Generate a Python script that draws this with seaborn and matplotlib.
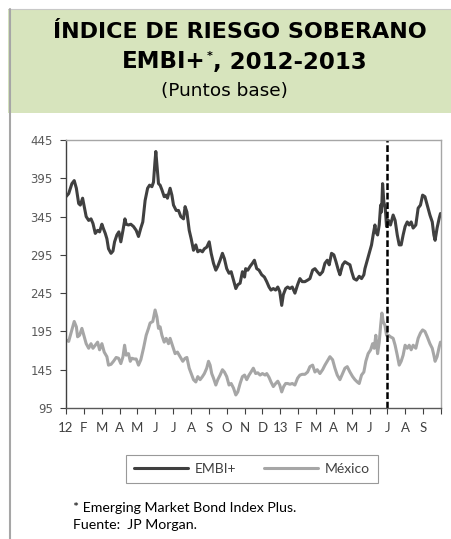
import numpy as np
import pandas as pd
import matplotlib
matplotlib.use("Agg")
import matplotlib.pyplot as plt
import seaborn as sns
from matplotlib.patches import Rectangle
from matplotlib.lines import Line2D

# ---- data (x = months since Jan-2012, fractional) ----
meses_embi = [0.00, 0.15, 0.33, 0.46, 0.58, 0.71, 0.80, 0.93, 1.02, 1.13, 1.27, 1.40, 1.51, 1.64, 1.77, 1.88,
              2.01, 2.10, 2.20, 2.29, 2.38, 2.52, 2.63, 2.72, 2.85, 2.96, 3.07, 3.19, 3.30, 3.37, 3.50, 3.63,
              3.78, 3.93, 4.06, 4.19, 4.30, 4.43, 4.57, 4.68, 4.81, 4.90, 4.98, 5.03, 5.11, 5.18, 5.27, 5.37,
              5.50, 5.61, 5.68, 5.83, 5.93, 6.02, 6.17, 6.30, 6.43, 6.58,
              6.67, 6.77, 6.90, 7.01, 7.14, 7.27, 7.38, 7.51, 7.64, 7.75, 7.88, 8.02, 8.13, 8.26, 8.39, 8.50,
              8.63, 8.76, 8.87, 9.00, 9.13, 9.25, 9.38, 9.51, 9.62, 9.75, 9.88, 10.00, 10.06, 10.18, 10.31,
              10.44, 10.55, 10.68, 10.81, 10.96, 11.11, 11.24, 11.37, 11.48, 11.61, 11.74, 11.86, 11.97,
              12.08, 12.17, 12.30, 12.41, 12.54, 12.67, 12.82, 12.97, 13.10, 13.23, 13.38, 13.53,
              13.66, 13.81, 13.94, 14.07, 14.22, 14.37, 14.50, 14.63, 14.74, 14.87, 15.00, 15.12, 15.25,
              15.34, 15.49, 15.62, 15.75, 15.90, 16.00, 16.12, 16.27, 16.42, 16.55, 16.68, 16.74, 16.87,
              16.98, 17.11, 17.20, 17.30, 17.35, 17.45, 17.54, 17.62, 17.67, 17.73, 17.80, 17.88, 17.95,
              18.06, 18.17, 18.32, 18.43, 18.55, 18.66, 18.77, 18.88, 18.99, 19.11, 19.22, 19.33, 19.44,
              19.59, 19.72, 19.85, 19.97, 20.10, 20.23, 20.38, 20.51, 20.60, 20.67, 20.78, 20.90, 20.97]
embi = [371, 375, 388, 392, 382, 362, 360, 369, 358, 345, 340, 342, 336, 323, 327, 325,
        335, 329, 323, 316, 303, 297, 300, 312, 321, 325, 312, 327, 342, 335, 334, 335,
        332, 327, 319, 330, 338, 366, 382, 386, 384, 390, 416, 430, 408, 388, 386, 380,
        371, 373, 369, 382, 373, 360, 353, 353, 345, 342,
        358, 351, 327, 316, 301, 308, 299, 301, 299, 303, 305, 312, 297, 284, 275, 280,
        288, 297, 290, 277, 271, 273, 262, 251, 256, 258, 273, 266, 277, 275, 280,
        284, 288, 277, 275, 269, 266, 260, 253, 249, 251, 249, 253, 247,
        229, 243, 251, 253, 251, 253, 245, 256, 264, 260, 260, 262,
        264, 275, 277, 273, 269, 273, 284, 288, 282, 297, 295, 286, 275,
        269, 282, 286, 284, 282, 273, 264, 262, 267, 264, 269, 277, 288,
        297, 308, 321, 334, 325, 321, 334, 360, 351, 388, 364, 356, 332,
        340, 334, 347, 340, 321, 308, 308, 321, 332, 338, 334, 338, 330,
        334, 356, 360, 373, 371, 360, 347, 338, 321, 314, 330, 343, 349]

meses_mex = [0.00, 0.15, 0.33, 0.46, 0.58, 0.65, 0.76, 0.89, 1.02, 1.13, 1.27, 1.40, 1.51, 1.64, 1.77, 1.88,
             2.01, 2.14, 2.29, 2.38, 2.52, 2.66, 2.81, 2.94, 3.07, 3.19, 3.28, 3.37, 3.50, 3.60, 3.69, 3.82,
             3.93, 4.06, 4.19, 4.34, 4.49, 4.62, 4.71, 4.86, 4.99, 5.09, 5.18, 5.27, 5.37, 5.50, 5.61, 5.74,
             5.83, 5.93, 6.02, 6.11, 6.24, 6.39, 6.54,
             6.67, 6.77, 6.90, 7.01, 7.14, 7.27, 7.38, 7.51, 7.64, 7.75, 7.88, 7.98, 8.07, 8.16, 8.26, 8.39,
             8.50, 8.63, 8.76, 8.87, 9.00, 9.13, 9.25, 9.38, 9.51, 9.62, 9.75, 9.88, 10.00, 10.12, 10.25,
             10.36, 10.49, 10.62, 10.74, 10.87, 11.00, 11.15, 11.24, 11.37, 11.48, 11.61, 11.74, 11.86,
             11.97, 12.08, 12.19, 12.30, 12.41, 12.54, 12.67, 12.82, 12.97, 13.10, 13.23, 13.38, 13.53,
             13.66, 13.81, 13.94, 14.07, 14.22, 14.37, 14.50, 14.63, 14.78, 14.93, 15.06, 15.19, 15.34,
             15.49, 15.62, 15.75, 15.90, 16.05, 16.18, 16.31, 16.42, 16.55, 16.68, 16.79, 16.92, 17.06,
             17.17, 17.26, 17.35, 17.45, 17.54, 17.62, 17.69, 17.76, 17.86, 17.95, 18.06, 18.17, 18.32,
             18.43, 18.55, 18.66, 18.77, 18.88, 18.99, 19.11, 19.22, 19.33, 19.44, 19.59, 19.72, 19.85,
             19.97, 20.10, 20.23, 20.38, 20.51, 20.60, 20.67, 20.78, 20.90, 20.97]
mexico = [184, 182, 197, 208, 201, 188, 190, 199, 188, 179, 173, 179, 173, 177, 181, 171,
          179, 168, 162, 151, 152, 156, 161, 160, 153, 162, 177, 164, 166, 156, 160, 159,
          159, 151, 158, 173, 190, 199, 206, 208, 223, 214, 199, 201, 190, 181, 186, 179,
          186, 179, 173, 166, 168, 162, 156,
          160, 161, 147, 140, 132, 129, 136, 132, 136, 140, 147, 156, 151, 140, 134, 125,
          132, 138, 145, 142, 136, 125, 127, 121, 112, 116, 127, 136, 138, 132, 138,
          142, 147, 140, 141, 138, 140, 138, 140, 135, 129, 123, 127, 130,
          125, 116, 123, 127, 127, 126, 127, 125, 134, 138, 139, 139, 142,
          149, 151, 142, 145, 140, 145, 151, 156, 162, 158, 147, 138, 132,
          140, 147, 149, 142, 136, 132, 129, 127, 138, 142, 156, 166, 171,
          179, 173, 190, 166, 181, 203, 219, 208, 203, 190, 190, 188, 186,
          177, 164, 151, 156, 164, 177, 173, 177, 171, 177, 173, 186, 193,
          197, 195, 188, 179, 173, 164, 156, 162, 175, 181]

etiquetas_x = ["12", "F", "M", "A", "M", "J", "J", "A", "S", "O", "N", "D",
               "13", "F", "M", "A", "M", "J", "J", "A", "S"]
ticks_y = [95, 145, 195, 245, 295, 345, 395, 445]
linea_vertical = 17.95  # fin de junio de 2013

# ---- style ----
sns.set_theme(style="white")
plt.rcParams['font.family'] = ['Lato', 'DejaVu Sans']

W, H = 451, 539
fig = plt.figure(figsize=(W / 100, H / 100), dpi=100)
fig.patch.set_facecolor('white')

# title box (behind everything)
fig.add_artist(Rectangle((8 / W, 1 - 113 / H), (W - 8) / W, (113 - 9) / H,
                         transform=fig.transFigure, facecolor='#D7E4BD', edgecolor='none',
                         zorder=-10))
fig.add_artist(Line2D([8 / W, 1], [1 - 9 / H, 1 - 9 / H], transform=fig.transFigure,
                      color='#c8c8c8', lw=0.8, zorder=-9))
fig.add_artist(Line2D([9.5 / W, 9.5 / W], [0, 1 - 9 / H], transform=fig.transFigure,
                      color='#a6a6a6', lw=1.5, zorder=-9))

tfont = ['DejaVu Sans']
TS = 16
fig.text(240 / W, 1 - 38.5 / H, 'ÍNDICE DE RIESGO SOBERANO', ha='center', va='baseline',
         fontsize=TS, fontweight='bold', color='black', family=tfont)

# axes
ax = fig.add_axes([66 / W, 1 - 408 / H, (441 - 66) / W, (408 - 140) / H])

t1 = fig.text(122 / W, 1 - 68.5 / H, 'EMBI+', ha='left', va='baseline',
              fontsize=16.5, fontweight='bold', color='black', family=tfont)
ax.annotate('*', xy=(1, 1), xycoords=t1, xytext=(0.5, -0.5), textcoords='offset points',
            ha='left', va='top', fontsize=8, fontweight='bold', family=tfont, color='black',
            annotation_clip=False)
ax.annotate(', 2012-2013', xy=(1, 0), xycoords=t1, xytext=(5.5, 0), textcoords='offset points',
            ha='left', va='bottom', fontsize=16.5, fontweight='bold', family=tfont, color='black',
            annotation_clip=False)
fig.text(224 / W, 1 - 96 / H, '(Puntos base)', ha='center', va='baseline',
         fontsize=13.3, color='black', family=tfont)

df = pd.concat([
    pd.DataFrame({'mes': meses_embi, 'pb': embi, 'serie': 'EMBI+'}),
    pd.DataFrame({'mes': meses_mex, 'pb': mexico, 'serie': 'México'}),
])
sns.lineplot(data=df, x='mes', y='pb', hue='serie',
             palette={'EMBI+': '#404040', 'México': '#a6a6a6'},
             linewidth=2.2, estimator=None, ax=ax, legend=False)
ax.axvline(linea_vertical, color='black', lw=1.8, dashes=(2.7, 1.1))

ax.set_xlim(0, 21)
ax.set_ylim(95, 445)
ax.set_xticks(range(22))
ax.set_xticklabels(etiquetas_x + [''])
ax.set_yticks(ticks_y)
ax.set_xlabel('')
ax.set_ylabel('')
ax.tick_params(axis='both', bottom=True, left=True, direction='out', length=4,
               width=0.8, color='#404040')
ax.tick_params(axis='x', pad=6, labelsize=9.5, labelcolor='#404040')
ax.tick_params(axis='y', pad=5.5, labelsize=8.5, labelcolor='#595959')
for lab in ax.get_yticklabels():
    lab.set_fontfamily('DejaVu Sans')
ax.spines['left'].set_color('#404040')
ax.spines['left'].set_linewidth(1.0)
ax.spines['bottom'].set_color('#595959')
ax.spines['bottom'].set_linewidth(1.0)
for s in ['top', 'right']:
    ax.spines[s].set_color('#a6a6a6')
    ax.spines[s].set_linewidth(1.0)

# legend
handles = [Line2D([], [], color='#404040', lw=2.2), Line2D([], [], color='#a6a6a6', lw=2.2)]
leg = fig.legend(handles, ['EMBI+', 'México'], loc='center', bbox_to_anchor=(252 / W, 1 - 469 / H),
                 ncol=2, frameon=True, fancybox=False, edgecolor='#808080', fontsize=10,
                 handlelength=3.9, handletextpad=0.5, columnspacing=2.0, borderpad=0.55,
                 borderaxespad=0)
leg.get_frame().set_linewidth(0.8)
for t in leg.get_texts():
    t.set_color('#404040')

# footnotes
fig.text(73 / W, 1 - 512 / H, '* Emerging Market Bond Index Plus.', ha='left', va='baseline',
         fontsize=10.2, color='black')
fig.text(73 / W, 1 - 529 / H, 'Fuente:  JP Morgan.', ha='left', va='baseline',
         fontsize=10.2, color='black')

fig.savefig('out.png', dpi=100)
